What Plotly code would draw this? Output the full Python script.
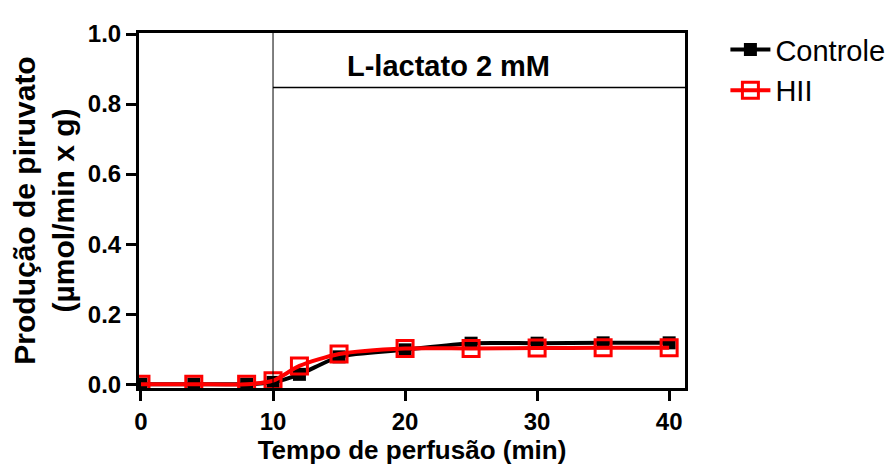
import plotly.graph_objects as go

time_min = [0, 4, 8, 10, 12, 15, 20, 25, 30, 35, 40]
controle = [0.0, 0.0, 0.0, 0.005, 0.028, 0.078, 0.098, 0.117, 0.117, 0.118, 0.118]
hii = [0.0, 0.0, 0.0, 0.01, 0.052, 0.086, 0.102, 0.102, 0.103, 0.104, 0.104]
x_ticks = [0, 10, 20, 30, 40]
x_tick_text = ["0", "10", "20", "30", "40"]
y_ticks = [0.0, 0.2, 0.4, 0.6, 0.8, 1.0]
y_tick_text = ["0.0", "0.2", "0.4", "0.6", "0.8", "1.0"]
lactate_start = 10
lactate_bar_y = 0.847
lactate_label = "L-lactato 2 mM"

FONT = "Liberation Sans, Arial, sans-serif"

fig = go.Figure()
fig.add_trace(go.Scatter(
    x=time_min, y=controle, name="Controle", mode="lines+markers",
    line=dict(color="black", width=4, shape="spline", smoothing=0.7),
    marker=dict(symbol="square", size=13, color="black"),
))
fig.add_trace(go.Scatter(
    x=time_min, y=hii, name="HII", mode="lines+markers",
    line=dict(color="#ff0000", width=4, shape="spline", smoothing=0.7),
    marker=dict(symbol="square-open", size=16, color="#ff0000", line=dict(width=3, color="#ff0000")),
))

x_range = [-0.15, 41.2]
y_range = [-0.011, 1.003]

fig.add_shape(type="line", xref="x", yref="y", x0=lactate_start, x1=lactate_start,
              y0=y_range[0], y1=y_range[1], line=dict(color="black", width=1))
fig.add_shape(type="line", xref="x", yref="y", x0=lactate_start, x1=x_range[1],
              y0=lactate_bar_y, y1=lactate_bar_y, line=dict(color="black", width=1.5))
fig.add_annotation(x=23.3, y=0.91, xref="x", yref="y",
                   text="<b>" + lactate_label + "</b>", showarrow=False,
                   font=dict(family=FONT, size=29, color="black"))

fig.update_layout(
    width=894, height=470,
    margin=dict(l=131, r=215, t=16, b=90),
    paper_bgcolor="white", plot_bgcolor="white",
    font=dict(family=FONT, color="black"),
    showlegend=True,
    legend=dict(x=1.074, y=1.025, xanchor="left", yanchor="top",
                font=dict(family=FONT, size=29, color="black"),
                bgcolor="rgba(0,0,0,0)", itemwidth=40),
    xaxis=dict(range=x_range, tickvals=x_ticks, ticktext=["<b>" + t + "</b>" for t in x_tick_text],
               ticks="outside", ticklen=10, tickwidth=3,
               tickcolor="black", showline=True, linecolor="black", linewidth=3, mirror=True,
               showgrid=False, zeroline=False,
               tickfont=dict(family=FONT, size=24, color="black"),
               title=dict(text="<b>Tempo de perfusão (min)</b>", font=dict(family=FONT, size=26), standoff=8)),
    yaxis=dict(range=y_range, tickvals=y_ticks, ticktext=["<b>" + t + "</b>" for t in y_tick_text],
               ticks="outside", ticklen=10, tickwidth=3,
               tickcolor="black", showline=True, linecolor="black", linewidth=3, mirror=True,
               showgrid=False, zeroline=False,
               tickfont=dict(family=FONT, size=24, color="black"),
               title=dict(text="<b>Produção de piruvato<br>(µmol/min x g)</b>", font=dict(family=FONT, size=30), standoff=8)),
)

fig.write_html("out.html")
